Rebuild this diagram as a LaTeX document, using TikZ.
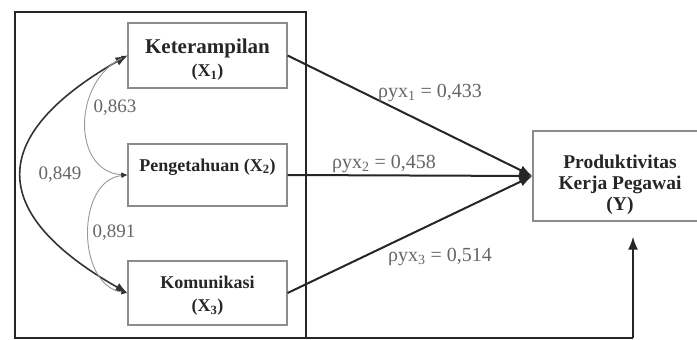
\documentclass[tikz,border=0pt]{standalone}
\usepackage{fontspec}
\setmainfont{Liberation Serif}
\usetikzlibrary{arrows.meta}
\begin{document}
\begin{tikzpicture}[x=1pt,y=-1pt,
  box/.style={draw=black!45, line width=1.2pt, inner sep=0pt},
  btext/.style={font=\fontsize{18}{23}\selectfont\bfseries, align=center, text=black!85, inner sep=0pt},
  ktext/.style={font=\fontsize{21}{23}\selectfont\bfseries, align=center, text=black!85, inner sep=0pt},
  ytext/.style={font=\fontsize{19.5}{21}\selectfont\bfseries, align=center, text=black!85, inner sep=0pt},
  num/.style={font=\fontsize{19}{21}\selectfont, text=black!60, inner sep=0pt},
  coef/.style={font=\fontsize{20}{22}\selectfont, text=black!60, inner sep=0pt},
  frame/.style={line width=2pt, draw=black!85},
  bigarrow/.style={line width=2pt, draw=black!85, -{Latex[length=13pt,width=10pt]}},
  bigarc/.style={line width=1.6pt, draw=black!80, {Latex[length=12pt,width=9pt]}-{Latex[length=12pt,width=9pt]}},
  grayarc/.style={line width=0.9pt, draw=black!40, {Latex[length=6pt,width=5pt,black!80]}-{Latex[length=6pt,width=5pt,black!80]}},
  ]
\useasboundingbox (0,0) rectangle (697,340);
\fill[white] (0,0) rectangle (697,340);

% outer frame and return line
\coordinate (corner) at (633,338);
\draw[frame] (306,338) -- (306,12) -- (15,12) -- (15,338) -- (corner);

% boxes
\node[box, minimum width=159pt, minimum height=65pt] (x1) at (207.5,55.5) {};
\node[box, minimum width=159pt, minimum height=62pt] (x2) at (207.5,175) {};
\node[box, minimum width=159pt, minimum height=64pt] (x3) at (207.5,293) {};
\node[box, minimum width=170pt, minimum height=90pt] (yb) at (618,176) {};

% box texts
\node[btext] (x1t) at (207.5,60) {{\fontsize{21}{23}\selectfont Keterampilan}\\(X\textsubscript{1})};
\node[btext] (x2t) at (207.5,167) {Pengetahuan (X\textsubscript{2})};
\node[btext] (x3t) at (207.5,296) {Komunikasi\\(X\textsubscript{3})};
\node[ytext] (ybt) at (620,185) {Produktivitas\\Kerja Pegawai\\(Y)};

% path arrows
\draw[bigarrow] (x1.east) -- (yb.west);
\draw[bigarrow] (x2.east) -- (yb.west);
\draw[bigarrow] (x3.east) -- (yb.west);
\draw[bigarrow, shorten >=15pt] (corner) -- (corner |- yb.south);

% correlation arcs
\draw[bigarc] (x3.west) .. controls (-13,213) and (-13,136) .. (x1.west);
\draw[grayarc] (x1.west) .. controls (72,82) and (72,172) .. (x2.west);
\draw[grayarc] (x2.west) .. controls (76,180) and (76,285) .. (x3.west);

% labels
\node[num] (n849) at (60,175) {0,849};
\node[num] (n863) at (115,108) {0,863};
\node[num] (n891) at (114,233) {0,891};
\node[coef] (c1) at (430,93) {ρyx\textsubscript{1} = 0,433};
\node[coef] (c2) at (384,164) {ρyx\textsubscript{2} = 0,458};
\node[coef] (c3) at (440,257) {ρyx\textsubscript{3} = 0,514};
\end{tikzpicture}
\end{document}
